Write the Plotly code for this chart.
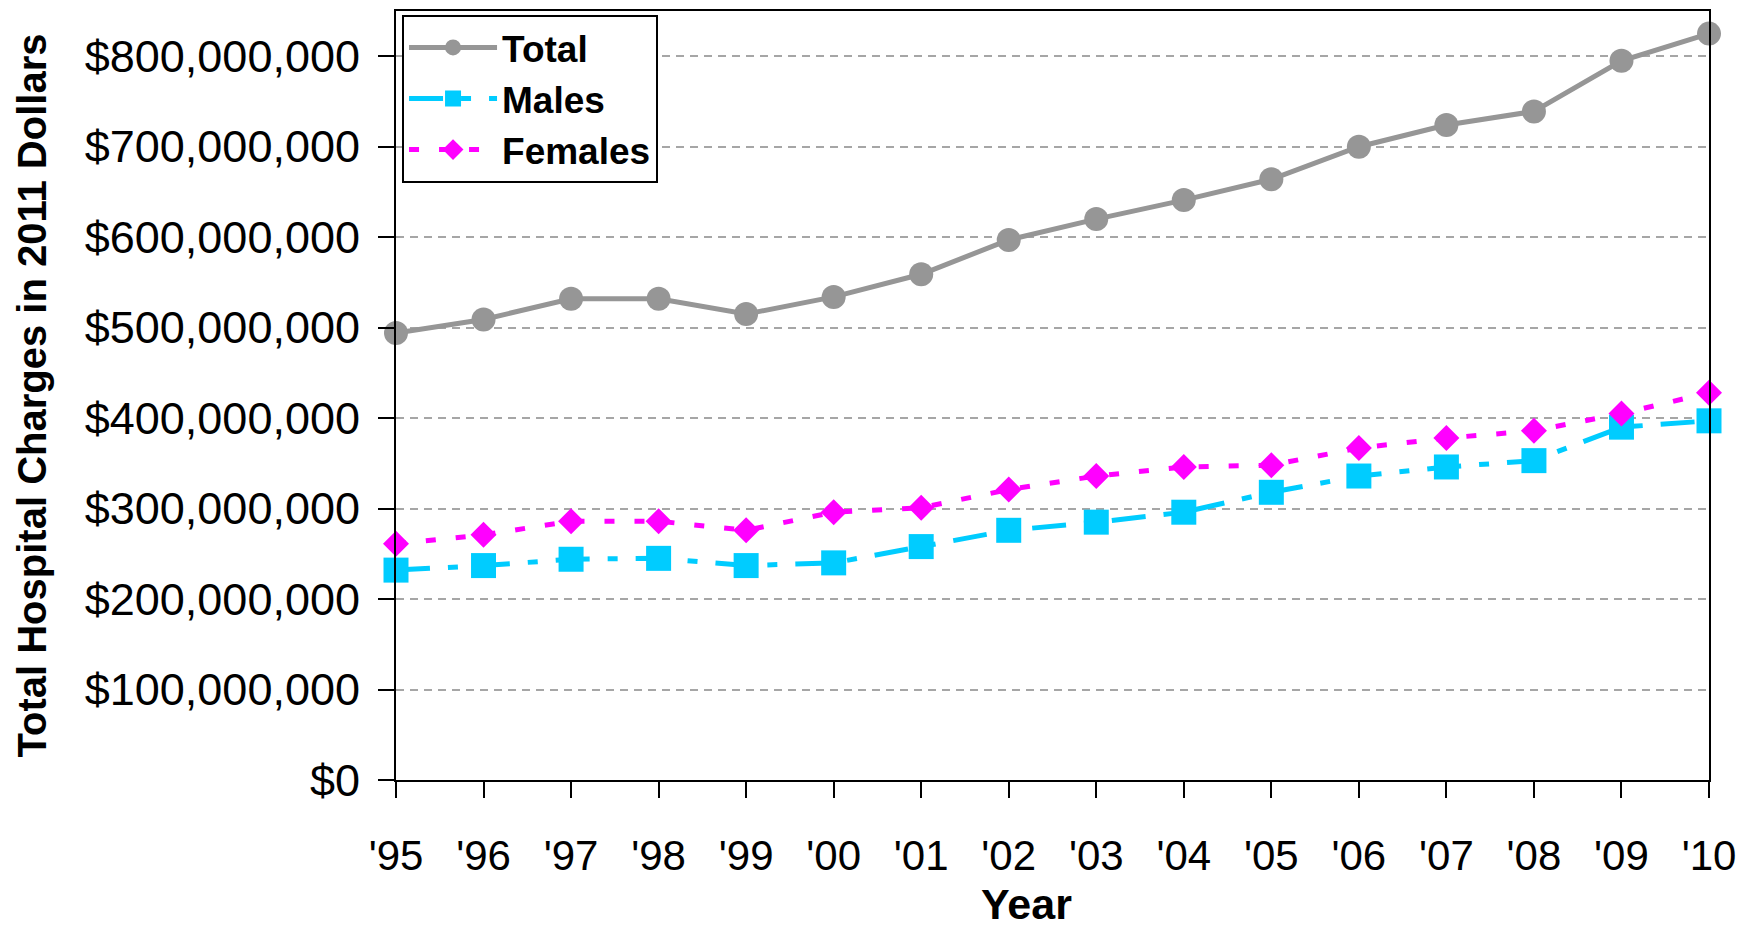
import plotly.graph_objects as go

# Annual hospital charges, constant 2011 dollars
years = list(range(1995, 2011))
year_labels = ["'95", "'96", "'97", "'98", "'99", "'00", "'01", "'02",
               "'03", "'04", "'05", "'06", "'07", "'08", "'09", "'10"]

total = [494e6, 509e6, 532e6, 532e6, 515e6, 534e6, 559e6, 597e6,
         620e6, 641e6, 664e6, 700e6, 724e6, 739e6, 795e6, 825e6]
males = [232e6, 237e6, 244e6, 245e6, 237e6, 240e6, 258e6, 276e6,
         285e6, 296e6, 318e6, 336e6, 346e6, 353e6, 390e6, 397e6]
females = [261e6, 271e6, 286e6, 286e6, 276e6, 296e6, 301e6, 321e6,
           336e6, 346e6, 348e6, 367e6, 378e6, 386e6, 405e6, 428e6]

y_ticks = [0, 100e6, 200e6, 300e6, 400e6, 500e6, 600e6, 700e6, 800e6]
y_tick_labels = [f"${v:,.0f}" for v in y_ticks]

FONT = "Liberation Sans, Arial, sans-serif"

fig = go.Figure()

fig.add_trace(go.Scatter(
    x=years, y=total, name="Total", mode="lines+markers",
    line=dict(color="#969696", width=5),
    marker=dict(symbol="circle", size=24, color="#969696"),
    cliponaxis=False,
))
fig.add_trace(go.Scatter(
    x=years, y=males, name="Males", mode="lines+markers",
    line=dict(color="#00CCFF", width=5, dash="34px,18px,10px,18px"),
    marker=dict(symbol="square", size=25, color="#00CCFF"),
    cliponaxis=False,
))
fig.add_trace(go.Scatter(
    x=years, y=females, name="Females", mode="lines+markers",
    line=dict(color="#FF00FF", width=5, dash="10px,20px"),
    marker=dict(symbol="diamond", size=20, color="#FF00FF"),
    cliponaxis=False,
))

fig.update_layout(
    width=1758, height=932,
    margin=dict(l=396, r=49, t=9, b=152),
    paper_bgcolor="white", plot_bgcolor="white",
    font=dict(family=FONT, color="black"),
    legend=dict(
        x=0.0046, y=0.995, xanchor="left", yanchor="top",
        bgcolor="white", bordercolor="black", borderwidth=2,
        font=dict(family=FONT, size=37, color="black", weight="bold"),
        itemwidth=88, tracegroupgap=0,
    ),
    annotations=[dict(
        text="<b>Year</b>", xref="paper", yref="paper",
        x=0.48, y=0, yshift=-124, xanchor="center", yanchor="middle",
        showarrow=False, font=dict(family=FONT, size=43, color="black"),
    )],
)

fig.update_xaxes(
    range=[1995, 2010],
    tickvals=years, ticktext=year_labels,
    tickfont=dict(size=42),
    ticks="outside", ticklen=16, tickwidth=1.5, tickcolor="black",
    ticklabelstandoff=22,
    showline=True, linecolor="black", linewidth=2, mirror=True,
    showgrid=False, zeroline=False,
)

fig.update_yaxes(
    range=[0, 850e6],
    tickvals=y_ticks, ticktext=y_tick_labels,
    tickfont=dict(size=45),
    ticks="outside", ticklen=16, tickwidth=1.5, tickcolor="black",
    ticklabelstandoff=9,
    showline=True, linecolor="black", linewidth=2, mirror=True,
    showgrid=True, gridcolor="#A6A6A6", gridwidth=1.5, griddash="8px,6px",
    zeroline=False,
    title=dict(text="<b>Total Hospital Charges in 2011 Dollars</b>",
               font=dict(size=40), standoff=26),
)

fig.write_html("out.html")
